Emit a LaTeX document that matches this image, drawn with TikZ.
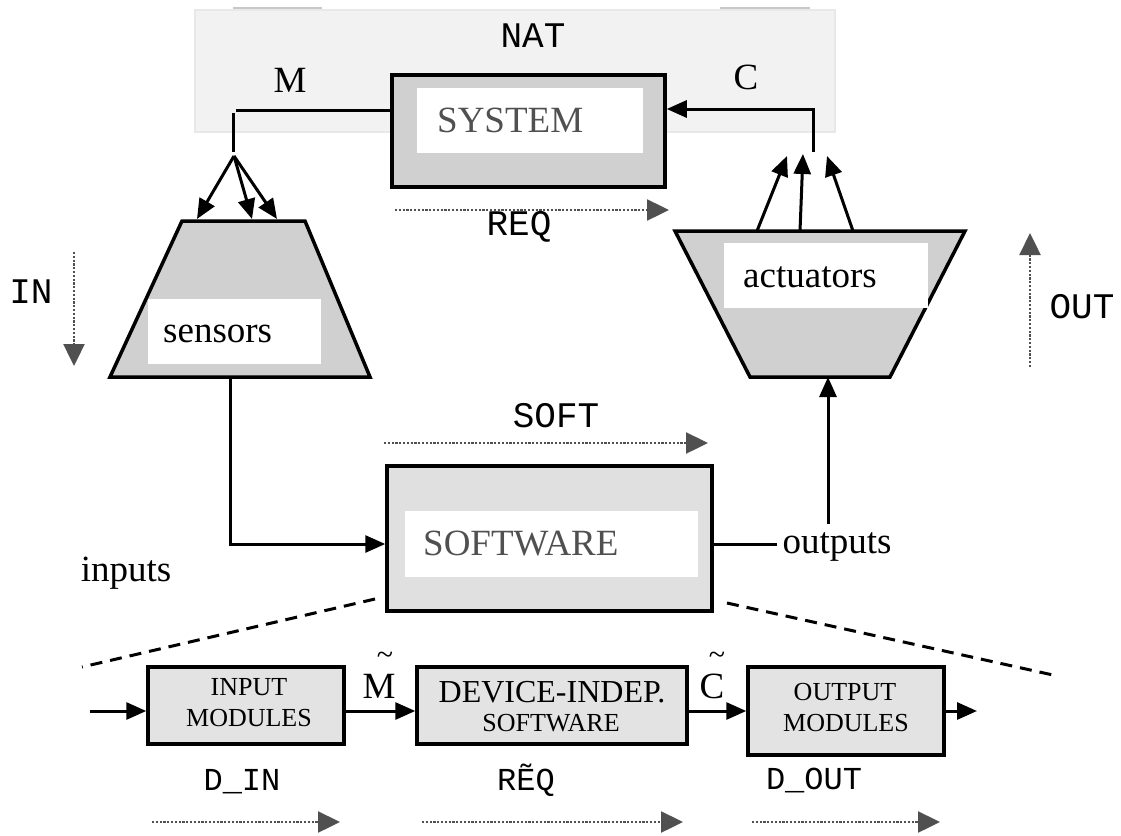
\documentclass[tikz,border=0pt]{standalone}
\usepackage{fontspec}
\setmainfont{Liberation Serif}
\setmonofont{Liberation Mono}
\usetikzlibrary{arrows.meta,calc}
\definecolor{natfill}{HTML}{F2F2F2}
\definecolor{natline}{HTML}{E8E8E8}
\definecolor{fainttop}{HTML}{C8C8C8}
\definecolor{midgray}{HTML}{D0D0D0}
\definecolor{softfill}{HTML}{E0E0E0}
\definecolor{modfill}{HTML}{E3E3E3}
\definecolor{txtgray}{HTML}{505050}
\definecolor{arrgray}{HTML}{505050}
\begin{document}
\begin{tikzpicture}[x=1pt,y=-1pt,
  serifL/.style={font=\fontsize{37}{44}\selectfont},
  tildefont/.style={font=\fontsize{30}{34}\selectfont},
  modtxt/.style={font=\fontsize{26}{30}\selectfont},
  devtxt/.style={font=\fontsize{32}{36}\selectfont},
  monoL/.style={font=\ttfamily\fontsize{36}{40}\selectfont},
  monoS/.style={font=\ttfamily\fontsize{32}{36}\selectfont},
  ln/.style={line width=3pt},
  arr/.style={line width=3pt,-{Triangle[length=20pt,width=17pt]}},
  dotarr/.style={draw=arrgray,line width=2.4pt,dash pattern=on 2.2pt off 1.6pt,
     -{Triangle[length=22pt,width=21pt,fill=arrgray]}},
  trapline/.style={draw=black,line width=3.5pt,fill=midgray,line join=miter},
  sysbox/.style={draw=black,line width=3.5pt,fill=midgray,inner sep=0pt},
  softbox/.style={draw=black,line width=3.5pt,fill=softfill,inner sep=0pt},
  whitebox/.style={fill=white,inner sep=0pt},
  modbox/.style={draw=black,line width=3.5pt,fill=modfill,inner sep=0pt},
  cutline/.style={line width=3pt,dash pattern=on 12pt off 8pt},
]
\useasboundingbox (0,0) rectangle (1121,835);

% NAT environment
\node[draw=natline,line width=2pt,fill=natfill,inner sep=0pt,
      minimum width=640pt,minimum height=122pt] (nat) at (515,71) {};
\coordinate (fa1) at (233,8); \coordinate (fa2) at (322,8);
\coordinate (fb1) at (720,8); \coordinate (fb2) at (810,8);
\draw[fainttop,line width=1.2pt] (fa1) -- (fa2);
\draw[fainttop,line width=1.2pt] (fb1) -- (fb2);
\node[monoL,anchor=base] (natlbl) at (533,47) {NAT};

% SYSTEM
\node[sysbox,minimum width=273pt,minimum height=112pt] (sys) at (528.5,131) {};
\node[whitebox,minimum width=226pt,minimum height=65pt] (syswhite) at (530,120.5) {};
\node[serifL,text=txtgray,anchor=base west,inner sep=0pt] (systxt) at (437,132) {SYSTEM};
\node[serifL,anchor=base] (mlbl) at (290,92) {M};
\node[serifL,anchor=base] (clbl) at (746,89) {C};

% sensors trapezoid
\coordinate (sTL) at (182,221); \coordinate (sTR) at (305,221);
\coordinate (sBR) at (370,377); \coordinate (sBL) at (110,377);
\draw[trapline] (sTL) -- (sTR) -- (sBR) -- (sBL) -- cycle;
\node[whitebox,minimum width=173pt,minimum height=65pt] (senswhite) at (234.5,331.5) {};
\node[serifL,anchor=base west,inner sep=0pt] (senstxt) at (163,342) {sensors};

% actuators trapezoid
\coordinate (aTL) at (675,231); \coordinate (aTR) at (965,231);
\coordinate (aBR) at (890,377); \coordinate (aBL) at (750,377);
\draw[trapline] (aTL) -- (aTR) -- (aBR) -- (aBL) -- cycle;
\node[whitebox,minimum width=204pt,minimum height=65pt] (actwhite) at (826,275.5) {};
\node[serifL,anchor=base west,inner sep=0pt] (acttxt) at (743,287) {actuators};

% M connector and fan to sensors
\coordinate (mline) at (236,110);
\coordinate (mv1) at (233,113); \coordinate (mv2) at (233,152);
\coordinate (mfan) at (234,156);
\coordinate (s1) at (197,219); \coordinate (s2) at (252,219); \coordinate (s3) at (277,219);
\draw[ln] (sys.west |- mline) -- (mline);
\draw[ln] (mv1) -- (mv2);
\draw[arr] (mfan) -- (s1);
\draw[arr] (mfan) -- (s2);
\draw[arr] (mfan) -- (s3);

% actuators fan to C connector
\coordinate (a1) at (757,231); \coordinate (a2) at (800,231); \coordinate (a3) at (853,231);
\coordinate (t1) at (787,156); \coordinate (t2) at (803,154); \coordinate (t3) at (827,156);
\coordinate (cv) at (813,152); \coordinate (cup) at (813,109);
\draw[arr] (a1) -- (t1);
\draw[arr] (a2) -- (t2);
\draw[arr] (a3) -- (t3);
\draw[arr] (cv) -- (cup) -- (sys.east |- cup);

% REQ
\coordinate (req1) at (395,210); \coordinate (req2) at (669,210);
\draw[dotarr] (req1) -- (req2);
\node[monoL,anchor=base] (reqlbl) at (519,235) {REQ};

% IN / OUT
\coordinate (in1) at (74,252); \coordinate (in2) at (74,366);
\draw[dotarr] (in1) -- (in2);
\node[monoL,anchor=base] (inlbl) at (31,303) {IN};
\coordinate (out1) at (1030,367); \coordinate (out2) at (1030,233);
\draw[dotarr] (out1) -- (out2);
\node[monoL,anchor=base] (outlbl) at (1082,318) {OUT};

% SOFT
\coordinate (soft1) at (384,443); \coordinate (soft2) at (708,443);
\draw[dotarr] (soft1) -- (soft2);
\node[monoL,anchor=base] (softlbl) at (556,427) {SOFT};

% SOFTWARE
\node[softbox,minimum width=325pt,minimum height=145pt] (soft) at (549.5,538.5) {};
\node[whitebox,minimum width=293pt,minimum height=66pt] (softwhite) at (551.5,544) {};
\node[serifL,text=txtgray,anchor=base west,inner sep=0pt] (softtxt) at (423,555) {SOFTWARE};

% inputs / outputs connectors
\coordinate (ioline) at (0,544);
\coordinate (sbot) at (230,377);
\coordinate (abot) at (828,377);
\draw[arr] (sbot) |- (soft.west |- ioline);
\draw[arr] (soft.east |- ioline) -| (abot);
\node[serifL,anchor=base,inner sep=0pt] (inputslbl) at (126,581) {inputs};
\node[serifL,anchor=base,fill=white,inner xsep=6pt,inner ysep=8pt] (outputslbl) at (837,553) {outputs};

% cut lines
\coordinate (cl1) at (375,599); \coordinate (cl2) at (82,667);
\coordinate (cr1) at (727,603); \coordinate (cr2) at (1053,675);
\draw[cutline] (cl1) -- (cl2);
\draw[cutline] (cr1) -- (cr2);

% bottom modules
\node[modbox,minimum width=196pt,minimum height=77pt] (inmod) at (246,705.5) {};
\node[modbox,minimum width=270pt,minimum height=77pt] (devmod) at (552,705.5) {};
\node[modbox,minimum width=196pt,minimum height=88pt] (outmod) at (846,711) {};
\node[modtxt,inner sep=0pt] (inmodA) at (249,687) {INPUT};
\node[modtxt,inner sep=0pt] (inmodB) at (249,718) {MODULES};
\node[devtxt,inner sep=0pt] (devA) at (552,692) {DEVICE-INDEP.};
\node[modtxt,inner sep=0pt] (devB) at (551,723) {SOFTWARE};
\node[modtxt,inner sep=0pt] (outA) at (845,692) {OUTPUT};
\node[modtxt,inner sep=0pt] (outB) at (846,723) {MODULES};

\coordinate (bline) at (0,711);
\coordinate (bin) at (90,711);
\coordinate (bout) at (977,711);
\draw[arr] (bin) -- (inmod.west |- bline);
\draw[arr] (inmod.east |- bline) -- (devmod.west |- bline);
\draw[arr] (devmod.east |- bline) -- (outmod.west |- bline);
\draw[arr] (outmod.east |- bline) -- (bout);

\node[serifL,anchor=base,inner sep=0pt] (mtil) at (379,698) {M};
\node[tildefont,anchor=base,inner sep=0pt] (mtilde) at (385,664) {\textasciitilde};
\node[serifL,anchor=base,inner sep=0pt] (ctil) at (712,698) {C};
\node[tildefont,anchor=base,inner sep=0pt] (ctilde) at (717,664) {\textasciitilde};

% bottom labels
\node[monoS,anchor=base] (dinlbl) at (242,790) {D\_IN};
\node[monoS,anchor=base] (reqtlbl) at (526,790) {R\~{E}Q};
\node[monoS,anchor=base] (doutlbl) at (814,789) {D\_OUT};
\coordinate (d1a) at (152,822); \coordinate (d1b) at (340,822);
\coordinate (d2a) at (422,822); \coordinate (d2b) at (683,822);
\coordinate (d3a) at (752,822); \coordinate (d3b) at (940,822);
\draw[dotarr] (d1a) -- (d1b);
\draw[dotarr] (d2a) -- (d2b);
\draw[dotarr] (d3a) -- (d3b);
\end{tikzpicture}
\end{document}
